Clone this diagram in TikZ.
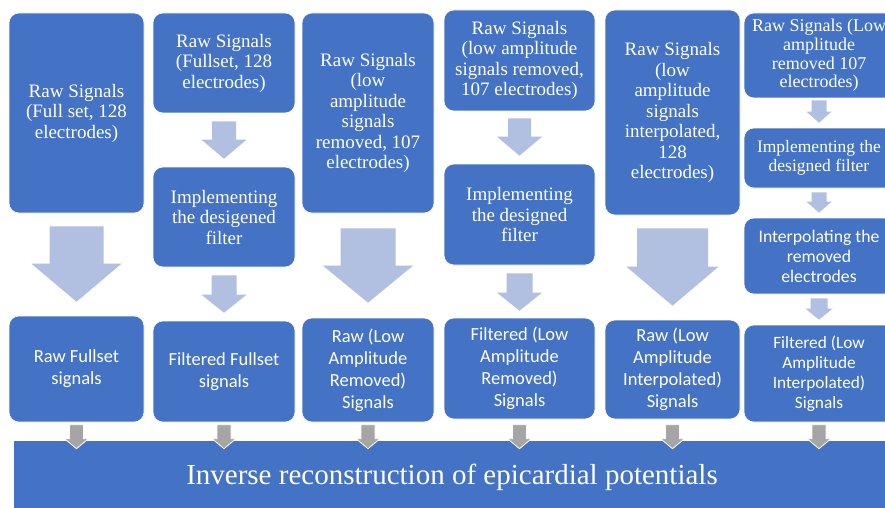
\documentclass[tikz,border=0pt]{standalone}
\usepackage{fontspec}
\setmainfont{Liberation Serif}
\newfontfamily\timesfont{Liberation Serif}
\newfontfamily\calibri{Carlito}
\usetikzlibrary{calc}
\definecolor{boxblue}{HTML}{4472C4}
\definecolor{arrowblue}{HTML}{B1BFE0}
\definecolor{arrowgray}{HTML}{A5A5A5}
% block arrow: [style]{from}{to}{shaft half width}{head half width}{head length}
\newcommand{\blockarrow}[6][fill=arrowblue]{%
  \path[#1] let \p1=(#2), \p2=(#3) in
    (\x1-#4,\y1) -- (\x1+#4,\y1) -- (\x1+#4,\y2+#6) -- (\x1+#5,\y2+#6) -- (\x1,\y2)
    -- (\x1-#5,\y2+#6) -- (\x1-#4,\y2+#6) -- cycle;}
\begin{document}
\begin{tikzpicture}[x=1pt,y=-1pt,
  block/.style={draw=white,line width=0.6pt,fill=boxblue,rounded corners=10pt,text=white,align=center,inner sep=0pt},
  toptext/.style={font=\timesfont\fontsize{19}{20.5}\selectfont},
  outtext/.style={font=\calibri\fontsize{18.5}{22}\selectfont}]
  \useasboundingbox[fill=white] (0,0) rectangle (885,508);
  % column 1
  \node[block,toptext,minimum width=135pt,minimum height=200pt] (raw1) at (76.5,113) {Raw Signals\\(Full set, 128\\electrodes)};
  \node[block,outtext,minimum width=135pt,minimum height=106pt] (out1) at (76.5,369) {Raw Fullset\\signals};
  % column 2
  \node[block,toptext,minimum width=142pt,minimum height=100pt] (raw2) at (224,63) {Raw Signals\\(Fullset, 128\\electrodes)};
  \node[block,toptext,minimum width=142pt,minimum height=100pt] (filt2) at (224,217) {Implementing\\the desigened\\filter};
  \node[block,outtext,minimum width=142pt,minimum height=101pt] (out2) at (224,371.5) {Filtered Fullset\\signals};
  % column 3
  \node[block,toptext,minimum width=132pt,minimum height=200pt] (raw3) at (368,113) {Raw Signals\\(low\\amplitude\\signals\\removed, 107\\electrodes)};
  \node[block,outtext,minimum width=132pt,minimum height=104pt] (out3) at (368,370) {Raw (Low\\Amplitude\\Removed)\\Signals};
  % column 4
  \node[block,toptext,minimum width=151pt,minimum height=101pt] (raw4) at (519.5,60.5) {Raw Signals\\(low amplitude\\signals removed,\\107 electrodes)};
  \node[block,toptext,minimum width=151pt,minimum height=101pt] (filt4) at (519.5,214.5) {Implementing\\the designed\\filter};
  \node[block,outtext,minimum width=151pt,minimum height=101pt] (out4) at (519.5,368.5) {Filtered (Low\\Amplitude\\Removed)\\Signals};
  % column 5
  \node[block,toptext,minimum width=135pt,minimum height=205pt] (raw5) at (672.5,112.5) {Raw Signals\\(low\\amplitude\\signals\\interpolated,\\128\\electrodes)};
  \node[block,outtext,minimum width=135pt,minimum height=99pt] (out5) at (672.5,369.5) {Raw (Low\\Amplitude\\Interpolated)\\Signals};
  % column 6 (runs past the right edge)
  \node[block,font=\timesfont\fontsize{18}{18.7}\selectfont,minimum width=150pt,minimum height=85pt] (raw6) at (819,55.5) {Raw Signals (Low\\amplitude\\removed 107\\electrodes)};
  \node[block,font=\timesfont\fontsize{17.5}{19}\selectfont,minimum width=150pt,minimum height=60pt] (filt6) at (819,158) {Implementing the\\designed filter};
  \node[block,font=\calibri\fontsize{17.7}{20}\selectfont,minimum width=150pt,minimum height=76pt] (interp6) at (819,256) {Interpolating the\\removed\\electrodes};
  \node[block,font=\calibri\fontsize{17.3}{20}\selectfont,minimum width=150pt,minimum height=97pt] (out6) at (819,373.5) {Filtered (Low\\Amplitude\\Interpolated)\\Signals};
  % banner
  \node[block,sharp corners,draw=none,font=\timesfont\fontsize{29}{32}\selectfont,text depth=0pt,minimum width=876pt,minimum height=67pt] (recon) at (452,474.5) {Inverse reconstruction of epicardial potentials};
  % light arrows
  \blockarrow{$(raw1.south)+(0,13)$}{$(out1.north)+(0,-14)$}{27pt}{45pt}{38pt}
  \blockarrow{$(raw2.south)+(0,8)$}{$(filt2.north)+(0,-8)$}{12pt}{22.5pt}{19pt}
  \blockarrow{$(filt2.south)+(0,8)$}{$(out2.north)+(0,-8)$}{12.5pt}{22.5pt}{18pt}
  \blockarrow{$(raw3.south)+(0,15)$}{$(out3.north)+(0,-15)$}{27.5pt}{45pt}{37pt}
  \blockarrow{$(raw4.south)+(0,7)$}{$(filt4.north)+(0,-8)$}{11.5pt}{22.5pt}{19pt}
  \blockarrow{$(filt4.south)+(0,8)$}{$(out4.north)+(0,-7)$}{13pt}{22.5pt}{18pt}
  \blockarrow{$(raw5.south)+(0,13)$}{$(out5.north)+(0,-14)$}{35.5pt}{46pt}{39pt}
  \blockarrow{$(raw6.south)+(0,2)$}{$(filt6.north)+(0,-5)$}{7.5pt}{12.5pt}{11pt}
  \blockarrow{$(filt6.south)+(0,4)$}{$(interp6.north)+(0,-5)$}{7.5pt}{12.5pt}{11pt}
  \blockarrow{$(interp6.south)+(0,4)$}{$(out6.north)+(0,-5)$}{8.5pt}{13.5pt}{11pt}
  % gray arrows into the banner
  \foreach \i in {1,...,6}
    \blockarrow[fill=arrowgray,draw=white,line width=0.8pt]{$(out\i.south|-recon.north)+(0,-16)$}{$(out\i.south|-recon.north)+(0,8)$}{7pt}{12pt}{10pt};
\end{tikzpicture}
\end{document}
